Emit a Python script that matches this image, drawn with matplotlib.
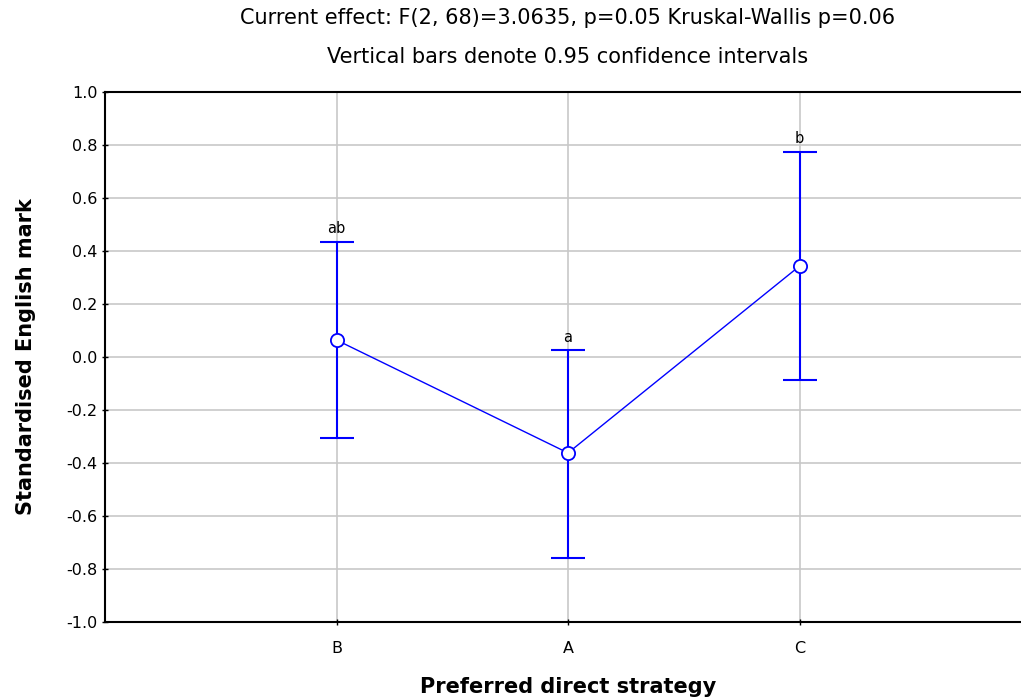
import matplotlib
matplotlib.use("Agg")
import matplotlib.pyplot as plt
import numpy as np

plt.rcParams['axes.unicode_minus'] = False

groups = ["B", "A", "C"]
means = [0.064, -0.362, 0.343]
upper = [0.434, 0.026, 0.774]
lower = [-0.306, -0.758, -0.087]
letters = ["ab", "a", "b"]
yticks = [-1.0, -0.8, -0.6, -0.4, -0.2, 0.0, 0.2, 0.4, 0.6, 0.8, 1.0]

title1 = "Current effect: F(2, 68)=3.0635, p=0.05 Kruskal-Wallis p=0.06"
title2 = "Vertical bars denote 0.95 confidence intervals"

fig = plt.figure(figsize=(10.21, 6.99), dpi=100)
ax = fig.add_axes([105/1021, 1-622/699, 926/1021, 530/699])

x = np.arange(1, len(groups)+1)
m = np.array(means)
err = np.array([m - np.array(lower), np.array(upper) - m])
ax.plot(x, m, color='#0000ff', lw=1, zorder=3)
ax.errorbar(x, m, yerr=err, fmt='none', ecolor='#0000ff', elinewidth=1.5,
            capsize=12, capthick=1.5, zorder=3)
ax.plot(x, m, 'o', ms=9.5, mfc='white', mec='#0000ff', mew=1.3, zorder=4)
for xi, up, lab in zip(x, upper, letters):
    ax.annotate(lab, (xi, up), xytext=(0, 4), textcoords='offset points',
                ha='center', va='bottom', fontsize=10.5)

ax.set_xlim(0, 4)
ax.set_ylim(-1, 1)
ax.set_xticks(x)
ax.set_xticklabels(groups)
ax.set_yticks(yticks)
ax.set_yticklabels(["%.1f" % v for v in yticks])
ax.grid(color='#c8c8c8', lw=1.2)
ax.set_axisbelow(True)
ax.tick_params(labelsize=11.5, length=4, direction='inout', width=1)
ax.tick_params(axis='x', pad=12)
for s in ax.spines.values():
    s.set_linewidth(1.5)

ax.set_ylabel("Standardised English mark", fontsize=15, fontweight='bold', labelpad=22)
ax.set_xlabel("Preferred direct strategy", fontsize=15, fontweight='bold', labelpad=15)

cx = (105 + 1031) / 2 / 1021
fig.text(cx, 1-18/699, title1, ha='center', va='center', fontsize=15)
fig.text(cx, 1-57/699, title2, ha='center', va='center', fontsize=15)

fig.savefig("out.png", dpi=100)
